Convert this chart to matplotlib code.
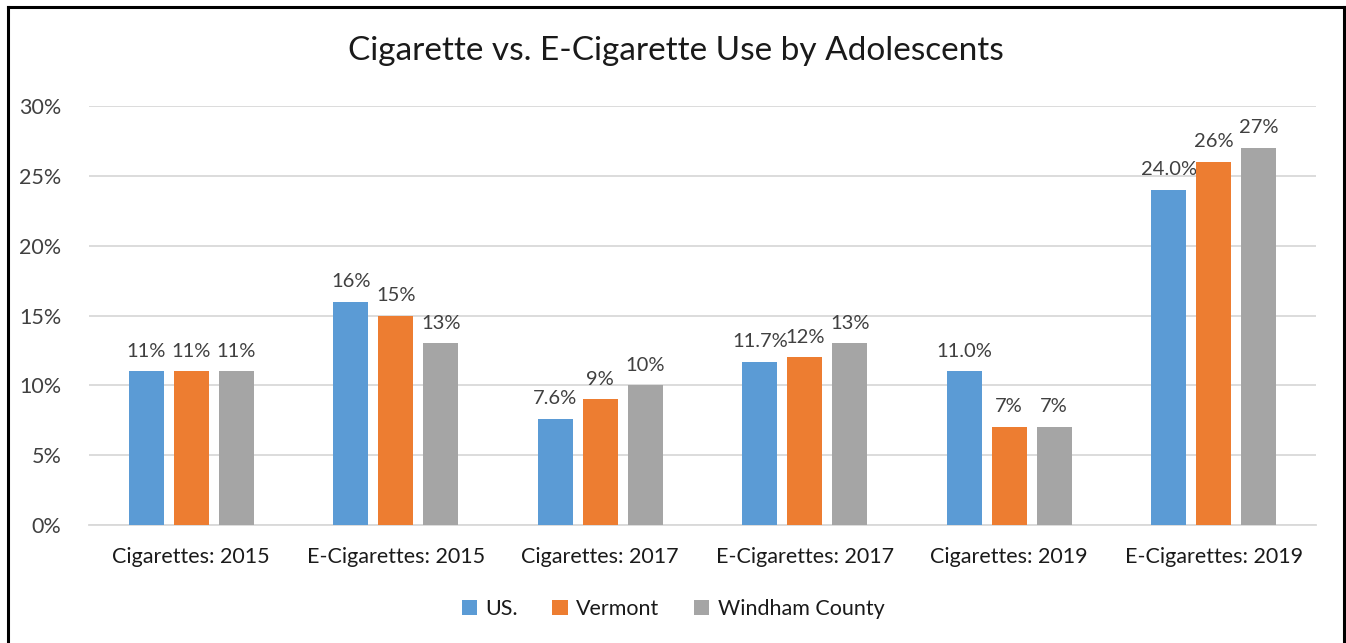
import numpy as np
import matplotlib.pyplot as plt
from matplotlib.lines import Line2D

plt.rcParams['font.family'] = ['Lato', 'DejaVu Sans']

categories = ['Cigarettes: 2015', 'E-Cigarettes: 2015', 'Cigarettes: 2017',
              'E-Cigarettes: 2017', 'Cigarettes: 2019', 'E-Cigarettes: 2019']
series = ['US.', 'Vermont', 'Windham County']
us = [0.11, 0.16, 0.076, 0.117, 0.11, 0.24]
vermont = [0.11, 0.15, 0.09, 0.12, 0.07, 0.26]
windham = [0.11, 0.13, 0.10, 0.13, 0.07, 0.27]
us_labels = ['11%', '16%', '7.6%', '11.7%', '11.0%', '24.0%']
vermont_labels = ['11%', '15%', '9%', '12%', '7%', '26%']
windham_labels = ['11%', '13%', '10%', '13%', '7%', '27%']
colors = ['#5B9BD5', '#ED7D31', '#A5A5A5']

fig = plt.figure(figsize=(13.46, 6.43), dpi=100)
ax = fig.add_axes([0.0661, 0.1835, 0.9116, 0.6516])

x = np.arange(len(categories))
width = 0.171
step = 0.22
values = [us, vermont, windham]
labels = [us_labels, vermont_labels, windham_labels]
for i in range(3):
    bars = ax.bar(x + (i - 1) * step, values[i], width, color=colors[i],
                  label=series[i], zorder=3)
    for b, lab in zip(bars, labels[i]):
        ax.annotate(lab, (b.get_x() + b.get_width() / 2, b.get_height()),
                    xytext=(0, 8.5), textcoords='offset points',
                    ha='center', va='bottom', fontsize=14.5, color='#404040')

ax.set_xlim(-0.5, len(categories) - 0.5)
ax.set_ylim(0, 0.30)
ax.set_yticks(np.arange(0, 0.31, 0.05))
ax.set_yticklabels(['%d%%' % round(v * 100) for v in np.arange(0, 0.31, 0.05)])
ax.set_xticks(x)
ax.set_xticklabels(categories)
ax.tick_params(axis='y', length=0, pad=20, labelsize=15.5, labelcolor='#404040')
ax.tick_params(axis='x', length=0, pad=16, labelsize=15.5, labelcolor='#1a1a1a')
ax.grid(axis='y', color='#D9D9D9', linewidth=1.3, zorder=0)
for s in ['top', 'right', 'left']:
    ax.spines[s].set_visible(False)
ax.spines['bottom'].set_color('#D9D9D9')
ax.spines['bottom'].set_linewidth(1.3)

fig.text(0.502, 0.92, 'Cigarette vs. E-Cigarette Use by Adolescents',
         ha='center', va='center', fontsize=24, color='#1a1a1a')

leg = ax.legend(loc='center', bbox_to_anchor=(0.5, 0.0528), bbox_transform=fig.transFigure,
                ncol=3, frameon=False, fontsize=15.5, handlelength=0.7, handleheight=0.7,
                handletextpad=0.4, columnspacing=1.6)
for t in leg.get_texts():
    t.set_color('#1a1a1a')

# outer frame (bottom edge cut off)
fig.add_artist(Line2D([0.0059, 0.0059], [0, 0.989], color='black', linewidth=2.2, transform=fig.transFigure))
fig.add_artist(Line2D([0.0059, 0.9985], [0.989, 0.989], color='black', linewidth=2.2, transform=fig.transFigure))
fig.add_artist(Line2D([0.9985, 0.9985], [0, 0.989], color='black', linewidth=2.2, transform=fig.transFigure))

fig.savefig('out.png', dpi=100)
